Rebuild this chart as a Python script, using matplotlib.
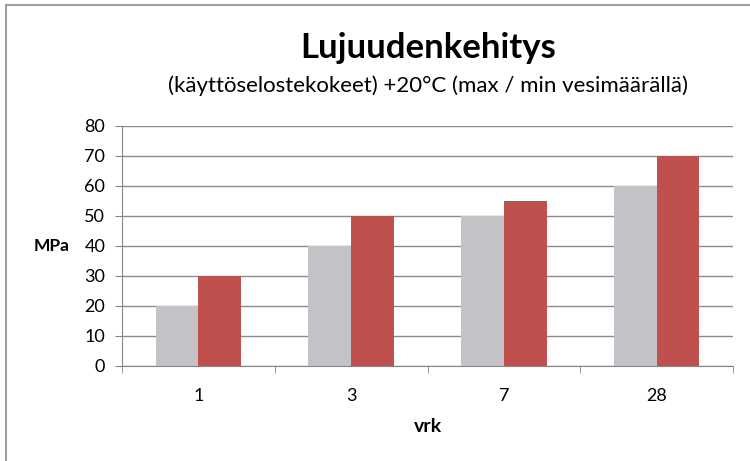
import numpy as np
import matplotlib.pyplot as plt
from matplotlib.lines import Line2D

plt.rcParams['font.family'] = ['Lato', 'DejaVu Sans']

# data
days = ["1", "3", "7", "28"]
min_water = [20, 40, 50, 60]   # grey bars
max_water = [30, 50, 55, 70]   # red bars
yticks = [0, 10, 20, 30, 40, 50, 60, 70, 80]

fig = plt.figure(figsize=(7.5, 4.61), dpi=100)
ax = fig.add_axes([0.1627, 0.2061, 0.8146, 0.5206])

x = np.arange(len(days))
w = 0.28
ax.bar(x - w/2, min_water, w, color='#C4C2C6', zorder=2)
ax.bar(x + w/2, max_water, w, color='#C0504D', zorder=2)

ax.set_xlim(-0.5, len(days) - 0.5)
ax.set_ylim(0, 80)
ax.set_yticks(yticks)
ax.set_xticks(x)
ax.set_xticklabels(days)
ax.set_xticks(np.arange(len(days) + 1) - 0.5, minor=True)
ax.tick_params(axis='x', which='major', length=0, pad=16, labelsize=13)
ax.tick_params(axis='x', which='minor', length=5, color='#868686')
ax.tick_params(axis='y', length=5, color='#868686', pad=7, labelsize=13)
ax.yaxis.grid(True, color='#8C8C8C', linewidth=1, zorder=0)

for s in ['top', 'right']:
    ax.spines[s].set_visible(False)
for s in ['left', 'bottom']:
    ax.spines[s].set_color('#868686')

ax.set_ylabel('MPa', rotation=0, fontweight='bold', fontsize=12.5, labelpad=24, va='center')
ax.set_xlabel('vrk', fontweight='bold', fontsize=14, labelpad=10)

fig.text(0.571, 0.895, 'Lujuudenkehitys', ha='center', va='center', fontsize=25, fontweight='bold')
fig.text(0.571, 0.815, '(käyttöselostekokeet) +20°C (max / min vesimäärällä)',
         ha='center', va='center', fontsize=16)

# outer frame (only left and top visible)
fig.add_artist(Line2D([0.008, 0.008], [0, 0.989], color='#A0A0A0', linewidth=1.5, transform=fig.transFigure))
fig.add_artist(Line2D([0.008, 1], [0.989, 0.989], color='#A0A0A0', linewidth=1.5, transform=fig.transFigure))

fig.savefig('out.png', dpi=100)
